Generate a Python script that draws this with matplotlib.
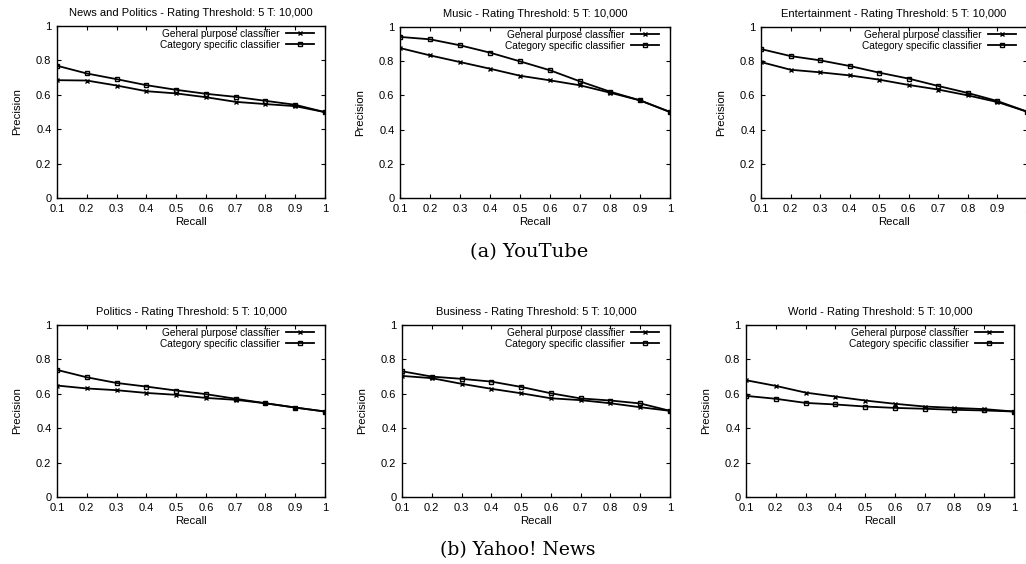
import matplotlib
matplotlib.use("Agg")
import matplotlib.pyplot as plt

plt.rcParams['font.family'] = ['Liberation Sans', 'DejaVu Sans']

#------------ data input --------------------
recall = [0.1, 0.2, 0.3, 0.4, 0.5, 0.6, 0.7, 0.8, 0.9, 1.0]

titles = ["News and Politics", "Music", "Entertainment",
          "Politics", "Business", "World"]

general = [
    [0.685, 0.683, 0.654, 0.621, 0.608, 0.586, 0.559, 0.546, 0.534, 0.499],
    [0.877, 0.834, 0.795, 0.756, 0.715, 0.688, 0.659, 0.616, 0.571, 0.503],
    [0.795, 0.750, 0.735, 0.717, 0.692, 0.661, 0.634, 0.600, 0.561, 0.505],
    [0.648, 0.631, 0.621, 0.605, 0.594, 0.576, 0.565, 0.545, 0.520, 0.497],
    [0.704, 0.691, 0.658, 0.629, 0.603, 0.574, 0.563, 0.545, 0.522, 0.501],
    [0.679, 0.646, 0.607, 0.584, 0.561, 0.542, 0.526, 0.518, 0.511, 0.497],
]
category = [
    [0.769, 0.724, 0.691, 0.656, 0.629, 0.606, 0.588, 0.565, 0.542, 0.499],
    [0.942, 0.928, 0.893, 0.850, 0.799, 0.747, 0.682, 0.622, 0.571, 0.503],
    [0.871, 0.830, 0.805, 0.772, 0.733, 0.698, 0.655, 0.614, 0.567, 0.505],
    [0.739, 0.696, 0.663, 0.642, 0.619, 0.598, 0.571, 0.545, 0.520, 0.497],
    [0.731, 0.700, 0.687, 0.671, 0.640, 0.603, 0.573, 0.561, 0.544, 0.501],
    [0.588, 0.571, 0.547, 0.538, 0.526, 0.518, 0.513, 0.507, 0.503, 0.497],
]

captions = ["(a) YouTube", "(b) Yahoo! News"]

#------------ layout (pixels) --------------------
W, H = 1026, 564
boxes = [(57, 26, 325, 198), (400, 27, 670, 198), (761, 27, 1027, 198),
         (57, 325, 325, 497), (402, 325, 670, 497), (746, 325, 1014, 497)]

fig = plt.figure(figsize=(W / 100, H / 100), dpi=100)

for i, (l, t, r, b) in enumerate(boxes):
    w, h = r - l, b - t
    ax = fig.add_axes([l / W, 1 - b / H, w / W, h / H])
    ax.plot(recall, general[i], color='black', lw=1.3, marker='x',
            ms=3.5, mew=1, label='General purpose classifier')
    ax.plot(recall, category[i], color='black', lw=1.3, marker='s',
            ms=3.5, mfc='none', mew=1, label='Category specific classifier')
    ax.set_xlim(0.1, 1.0)
    ax.set_ylim(0, 1)
    ax.set_xticks(recall)
    ax.set_xticklabels(["0.1", "0.2", "0.3", "0.4", "0.5",
                        "0.6", "0.7", "0.8", "0.9", "1"])
    ax.set_yticks([0, 0.2, 0.4, 0.6, 0.8, 1.0])
    ax.set_yticklabels(["0", "0.2", "0.4", "0.6", "0.8", "1"])
    ax.tick_params(direction='in', top=True, right=True, length=3,
                   width=0.8, labelsize=8)
    ax.tick_params(axis='x', pad=4.5)
    ax.tick_params(axis='y', pad=4)
    for s in ax.spines.values():
        s.set_linewidth(1.0)
    ax.set_xlabel("Recall", fontsize=8.2)
    ax.set_ylabel("Precision", fontsize=8.2)
    ax.xaxis.set_label_coords(0.5, -24 / h)
    ax.xaxis.label.set_va('center')
    ax.yaxis.set_label_coords(-40 / w, 0.5)
    ax.yaxis.label.set_va('center')
    ax.set_title(titles[i] + " - Rating Threshold: 5 T: 10,000",
                 fontsize=8, pad=7.5)
    ax.legend(loc='upper right', bbox_to_anchor=(1 - 11 / w, 1 - 3 / h),
              frameon=False, markerfirst=False, fontsize=7.3,
              handlelength=2.8, handletextpad=0.6, labelspacing=0.1,
              borderaxespad=0, borderpad=0)

# sub-figure captions
fig.text(529 / W, 1 - 252 / H, captions[0], ha='center', va='center',
         fontsize=14, family='DejaVu Serif')
fig.text(518 / W, 1 - 550 / H, captions[1], ha='center', va='center',
         fontsize=13.5, family='DejaVu Serif')

plt.savefig('out.png', dpi=100)
